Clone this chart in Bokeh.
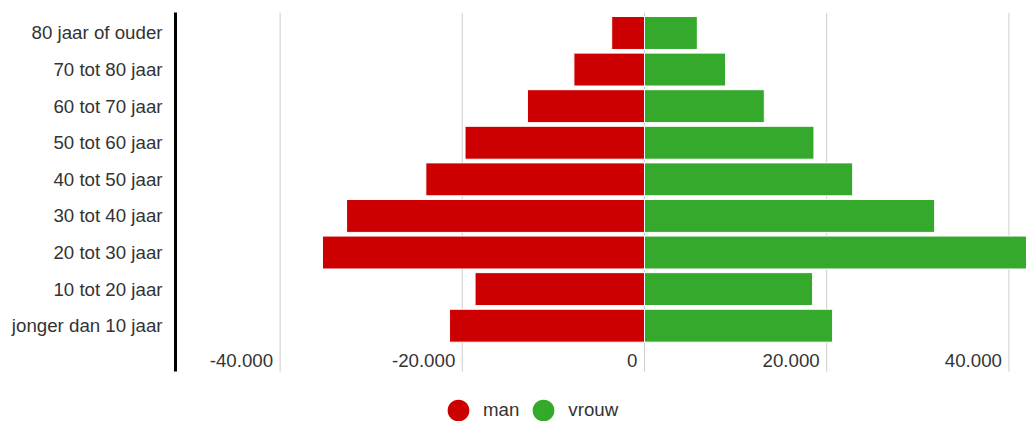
import numpy as np
from bokeh.plotting import figure
from bokeh.models import ColumnDataSource, Range1d, FixedTicker, Legend, LegendItem
from bokeh.core.properties import value
from bokeh.embed import file_html
from bokeh.resources import INLINE

# ---- data (bottom to top) ----
categories = ["jonger dan 10 jaar", "10 tot 20 jaar", "20 tot 30 jaar", "30 tot 40 jaar",
              "40 tot 50 jaar", "50 tot 60 jaar", "60 tot 70 jaar", "70 tot 80 jaar",
              "80 jaar of ouder"]
man = [21400, 18600, 35350, 32700, 24000, 19700, 12850, 7750, 3600]
vrouw = [20650, 18450, 42500, 31850, 22850, 18600, 13150, 8900, 5800]
x_ticks = [-40000, -20000, 0, 20000, 40000]
x_tick_labels = ["-40.000", "-20.000", "0", "20.000", "40.000"]

RED = "#cc0000"
GREEN = "#34a92b"
TXT = "#333333"
FONT = "Liberation Sans"
FS = "18.7px"

AXIS_LOW, AXIS_HIGH = -1.252, 8.56   # visible extent of axis line / grid lines

ypos = list(range(len(categories)))
src = ColumnDataSource(dict(y=ypos, man_left=[-v for v in man], vrouw=vrouw, cat=categories))

p = figure(width=1026, height=421, output_backend="svg", toolbar_location=None,
           x_range=Range1d(-51480, 41930), y_range=Range1d(-2.618, AXIS_HIGH),
           x_axis_location=None,
           min_border_left=175, min_border_right=0, min_border_top=12, min_border_bottom=0)
p.outline_line_color = None
p.background_fill_color = "white"
p.border_fill_color = "white"
p.xgrid.grid_line_color = None
p.ygrid.grid_line_color = None

# vertical grid lines at the x ticks (limited to the axis extent)
tsrc = ColumnDataSource(dict(x=x_ticks, text=x_tick_labels))
p.segment(x0="x", y0=AXIS_LOW, x1="x", y1=AXIS_HIGH, source=tsrc,
          line_color="#cccccc", line_width=1)

# bars
p.hbar(y="y", left="man_left", right=0, height=0.9, source=src,
       fill_color=RED, line_color="white", line_width=1)
p.hbar(y="y", left=0, right="vrouw", height=0.9, source=src,
       fill_color=GREEN, line_color="white", line_width=1)

# y axis
ax = p.yaxis[0]
ax.ticker = FixedTicker(ticks=ypos)
ax.bounds = (AXIS_LOW, AXIS_HIGH)
ax.major_label_overrides = {i: c for i, c in enumerate(categories)}
ax.axis_line_width = 3
ax.axis_line_color = "black"
ax.major_tick_line_color = None
ax.minor_tick_line_color = None
ax.major_tick_out = 0
ax.major_tick_in = 0
ax.major_label_standoff = 13
ax.major_label_text_font = FONT
ax.major_label_text_font_size = FS
ax.major_label_text_color = TXT

# x tick labels (right-aligned next to grid lines)
p.text(x="x", y=-0.957, text="text", source=tsrc, x_offset=-7,
       text_align="right", text_baseline="middle",
       text_font=value(FONT), text_font_size=FS, text_color=TXT)

# legend with circle markers (renderers hold no visible point)
r1 = p.scatter(x=np.array([np.nan]), y=np.array([np.nan]), marker="circle", size=22,
               fill_color=RED, line_color=RED, line_width=2.5)
r2 = p.scatter(x=np.array([np.nan]), y=np.array([np.nan]), marker="circle", size=22,
               fill_color=GREEN, line_color=GREEN, line_width=2.5)
legend = Legend(items=[LegendItem(label="man", renderers=[r1]),
                       LegendItem(label="vrouw", renderers=[r2])],
                orientation="horizontal", location=(259, -17),
                glyph_width=48, glyph_height=56, label_standoff=1, spacing=0,
                padding=0, margin=0, border_line_color=None, background_fill_alpha=0,
                label_text_font=FONT, label_text_font_size=FS, label_text_color=TXT,
                label_height=20)
p.add_layout(legend, "center")

open("out.html", "w").write(file_html(p, INLINE))
